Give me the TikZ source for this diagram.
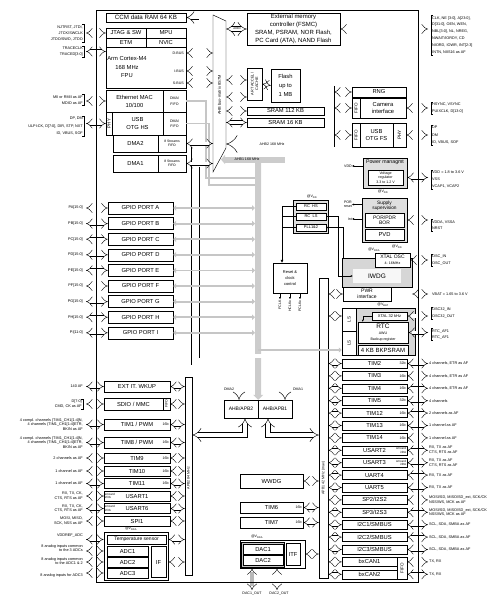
\documentclass[tikz,border=0pt]{standalone}
\usepackage{fontspec}
\setmainfont{Liberation Sans}
\usetikzlibrary{arrows.meta}

\begin{document}
\begin{tikzpicture}[
    x=1pt, y=-1pt,
    lbox/.style={draw, fill=white, line width=0.45pt, inner sep=0pt, align=center,
        font=\fontsize{5.8}{6.8}\selectfont},
    shadebox/.style={lbox, fill=gray!25},
    smalltxt/.style={inner sep=0pt, align=center, font=\fontsize{3.6}{4.2}\selectfont},
    bits/.style={smalltxt, anchor=east, xshift=-1.5pt},
    leftlab/.style={inner sep=1pt, anchor=east, align=right,
        font=\fontsize{3.8}{4.5}\selectfont},
    rightlab/.style={inner sep=1pt, anchor=west, align=left,
        font=\fontsize{3.8}{4.8}\selectfont},
    widelab/.style={font=\fontsize{3.8}{6.4}\selectfont},
    pinarrow/.style={line width=0.4pt, double=white, double distance=3.2pt,
        {Implies}-{Implies}},
    hollowpipe/.style={line width=0.45pt, double=white, double distance=4.6pt},
    graybus/.style={draw=gray!45, line width=1.8pt,
        {Triangle[length=3pt,width=5.5pt]}-{Triangle[length=3pt,width=5.5pt]}},
    grayline/.style={draw=gray!45, line width=1.3pt},
    sigarrow/.style={line width=0.4pt, -{Latex[length=2pt,width=2pt]}},
    bracket/.style={line width=0.3pt}
]
    \useasboundingbox (0,0) rectangle (501,599);
    % Pin columns and bus edges
    \coordinate (lpin) at (86,0);
    \coordinate (rpin) at (428,0);
    \coordinate (rbox) at (407,0);
    \coordinate (lcolr) at (170,0);
    \coordinate (bmL) at (213,0);
    \coordinate (bmR) at (226,0);
    \coordinate (gpiobus) at (255,0);

    % Core
    \node[lbox, minimum width=80pt, minimum height=9pt, font=\fontsize{6.2}{7}\selectfont] (ccm) at (146,17.5) {CCM data RAM 64 KB};
    \node[lbox, minimum width=40pt, minimum height=10pt] (jtag) at (126,33) {JTAG \& SW};
    \node[lbox, minimum width=40pt, minimum height=10pt] (mpu) at (166,33) {MPU};
    \node[lbox, minimum width=40pt, minimum height=9pt] (etm) at (126,42.5) {ETM};
    \node[lbox, minimum width=40pt, minimum height=9pt] (nvic) at (166,42.5) {NVIC};
    \node[lbox, minimum width=80pt, minimum height=41pt] (core) at (146,67.5) {};
    \node[smalltxt, font=\fontsize{5.8}{8.5}\selectfont] (cortex) at (127,67.5) {Arm Cortex-M4\\168 MHz\\FPU};
    \node[smalltxt, anchor=east] (dbus) at (184,53) {D-BUS};
    \node[smalltxt, anchor=east] (ibus) at (184,71) {I-BUS};
    \node[smalltxt, anchor=east] (sbus) at (184,83) {S-BUS};

    % Ethernet, USB HS, DMA
    \node[lbox, minimum width=57pt, minimum height=22pt, font=\fontsize{5.8}{8}\selectfont] (eth) at (134.5,101) {Ethernet MAC\\10/100};
    \node[lbox, minimum width=23pt, minimum height=22pt, font=\fontsize{3.6}{5.5}\selectfont] (ethfifo) at (174.5,101) {DMA/\\FIFO};
    \node[lbox, rotate=90, minimum width=23pt, minimum height=6pt, font=\fontsize{4.5}{5}\selectfont] (hsphy) at (109,123.5) {PHY};
    \node[lbox, minimum width=51pt, minimum height=23pt, font=\fontsize{5.8}{8}\selectfont] (usbhs) at (137.5,123.5) {USB\\OTG HS};
    \node[lbox, minimum width=23pt, minimum height=23pt, font=\fontsize{3.6}{5.5}\selectfont] (hsfifo) at (174.5,123.5) {DMA/\\FIFO};
    \node[lbox, minimum width=45pt, minimum height=17pt] (dmatwo) at (135.5,143.5) {DMA2};
    \node[lbox, minimum width=28pt, minimum height=17pt, font=\fontsize{3.4}{4.5}\selectfont] (dmatwofifo) at (172,143.5) {8 Streams\\FIFO};
    \node[lbox, minimum width=45pt, minimum height=17pt] (dmaone) at (135.5,163.5) {DMA1};
    \node[lbox, minimum width=28pt, minimum height=17pt, font=\fontsize{3.4}{4.5}\selectfont] (dmaonefifo) at (172,163.5) {8 Streams\\FIFO};

    % Bus matrix
    \draw[line width=0.45pt, fill=white] (213,15) -- (226,21) -- (226,148) -- (213,172) -- cycle;
    \node[smalltxt, rotate=90, font=\fontsize{4}{4.5}\selectfont] (busmatrix) at (219.5,95) {AHB bus-matrix 8S7M};

    % Memories
    \node[lbox, minimum width=93pt, minimum height=32pt, font=\fontsize{6}{7.9}\selectfont] (fsmc) at (293.5,29) {External memory\\controller (FSMC)\\SRAM, PSRAM, NOR Flash,\\PC Card (ATA), NAND Flash};
    \node[lbox, rotate=90, minimum width=32pt, minimum height=15pt, font=\fontsize{3.8}{4.6}\selectfont] (art) at (254.5,84) {ART ACCEL/\\CACHE};
    \node[lbox, minimum width=29pt, minimum height=33pt, font=\fontsize{5.8}{9}\selectfont] (flash) at (285.5,85.5) {Flash\\up to\\1 MB};
    \node[lbox, minimum width=77pt, minimum height=8pt] (sramone) at (285.5,111) {SRAM 112 KB};
    \node[lbox, minimum width=77pt, minimum height=9pt] (sramtwo) at (285.5,122.5) {SRAM 16 KB};
    \coordinate (artin) at ([yshift=4pt]art.north);
    \coordinate (artdin) at ([yshift=-13pt]art.north);

    % CCM path and core buses
    \coordinate (ccmdrop) at (201,50);
    \draw[hollowpipe, double distance=4pt, -{Implies}] (ccmdrop) |- (ccm.east);
    \draw[pinarrow] (dbus.east -| core.east) -- (dbus.east -| bmL);
    \draw[pinarrow] (ibus.east -| core.east) -- (ibus.east -| bmL);
    \draw[pinarrow] (sbus.east -| core.east) -- (sbus.east -| bmL);
    \draw[hollowpipe, {Implies}-{Implies}] (fsmc.west -| bmR) -- (fsmc.west);
    \node[smalltxt, font=\fontsize{2.8}{3}\selectfont] (ahbthree) at (237,29) {AHB3};
    \draw[pinarrow] (artin -| bmR) -- (artin);
    \draw[pinarrow] (artdin -| bmR) -- (artdin);
    \draw[pinarrow] (art.south) -- (flash.west);
    \draw[pinarrow] (sramone.west -| bmR) -- (sramone.west);
    \draw[pinarrow] (sramtwo.west -| bmR) -- (sramtwo.west);

    % AHB2
    \coordinate (ahbtwo) at (334,144);
    \coordinate (ahbtwotop) at (334,86);
    \draw[hollowpipe, double distance=6pt, {Implies}-] (ahbtwo -| bmR) -- (ahbtwo);
    \draw[line width=0.45pt] (ahbtwotop) -- ([yshift=-3pt]ahbtwo);
    \node[smalltxt] (ahbtwolab) at (272,144) {AHB2 168 MHz};
    \node[lbox, minimum width=54pt, minimum height=10pt] (rng) at (379,92) {RNG};
    \node[lbox, rotate=90, minimum width=20pt, minimum height=8pt, font=\fontsize{4.5}{5}\selectfont] (camfifo) at (356,108) {FIFO};
    \node[lbox, minimum width=46pt, minimum height=20pt, font=\fontsize{5.8}{7.5}\selectfont] (camera) at (383,108) {Camera\\interface};
    \node[lbox, rotate=90, minimum width=24pt, minimum height=8pt, font=\fontsize{4.5}{5}\selectfont] (fsfifo) at (356,135) {FIFO};
    \node[lbox, minimum width=33pt, minimum height=24pt, font=\fontsize{5.8}{7.5}\selectfont] (usbfs) at (376.5,135) {USB\\OTG FS};
    \node[lbox, rotate=90, minimum width=24pt, minimum height=13pt, font=\fontsize{4.8}{5}\selectfont] (fsphy) at (399.5,135) {PHY};
    \draw[pinarrow] (rng.west -| ahbtwo) -- (rng.west);
    \draw[pinarrow] (camfifo.north -| ahbtwo) -- (camfifo.north);
    \draw[pinarrow] (fsfifo.north -| ahbtwo) -- (fsfifo.north);

    % AHB1 and GPIO
    \node[lbox, minimum width=34pt, minimum height=18pt, font=\fontsize{5}{6}\selectfont] (ahbapb2) at (241,409) {AHB/APB2};
    \node[lbox, minimum width=34pt, minimum height=18pt, font=\fontsize{5}{6}\selectfont] (ahbapb1) at (275,409) {AHB/APB1};
    \coordinate (gbartop) at (258,162);
    \coordinate (ethdrop) at (206,178);
    \coordinate (hsdrop) at (209,185);
    \draw[grayline] (ethfifo.east) -| (ethdrop) -- (ethdrop -| gbartop);
    \draw[grayline] (hsfifo.east) -| (hsdrop) -- (hsdrop -| gbartop);
    \draw[draw=gray!40, line width=6pt, {Triangle[length=4pt,width=9pt]}-] (221,159.5) -- (285,159.5);
    \node[smalltxt] (ahbonelab) at (247,159.5) {AHB1 168 MHz};
    \draw[draw=gray!40, line width=6pt, -{Triangle[length=5pt,width=10pt]}] (gbartop) -- (ahbapb2.north east);

    \node[lbox, minimum width=65pt, minimum height=12pt] (gpioA) at (140.5,208) {GPIO PORT A};
    \node[lbox, minimum width=65pt, minimum height=12pt] (gpioB) at (140.5,223.6) {GPIO PORT B};
    \node[lbox, minimum width=65pt, minimum height=12pt] (gpioC) at (140.5,239.2) {GPIO PORT C};
    \node[lbox, minimum width=65pt, minimum height=12pt] (gpioD) at (140.5,254.8) {GPIO PORT D};
    \node[lbox, minimum width=65pt, minimum height=12pt] (gpioE) at (140.5,270.4) {GPIO PORT E};
    \node[lbox, minimum width=65pt, minimum height=12pt] (gpioF) at (140.5,286) {GPIO PORT F};
    \node[lbox, minimum width=65pt, minimum height=12pt] (gpioG) at (140.5,301.6) {GPIO PORT G};
    \node[lbox, minimum width=65pt, minimum height=12pt] (gpioH) at (140.5,317.2) {GPIO PORT H};
    \node[lbox, minimum width=65pt, minimum height=12pt] (gpioI) at (140.5,332.8) {GPIO PORT I};

    % DMA paths to the APB bridges
    \coordinate (dmatwotap) at (193.5,147);
    \coordinate (dmatwoturn) at (193.5,363);
    \coordinate (dmaonetap) at (201.5,167);
    \coordinate (dmaoneturn) at (201.5,356);
    \draw[hollowpipe, double distance=4pt, -{Implies}] (dmatwotap) -- (dmatwoturn) -| ([xshift=-2pt]ahbapb2.north);
    \draw[hollowpipe, double distance=4pt, -{Implies}] (dmaonetap) -- (dmaoneturn) -| ([xshift=10pt]ahbapb1.north);
    \draw[pinarrow] (dmatwofifo.east) -- (dmatwofifo.east -| bmL);
    \draw[pinarrow] (dmaonefifo.east) -- (dmaonefifo.east -| bmL);
    \node[smalltxt] (dmatwolab) at (229,389) {DMA2};
    \node[smalltxt] (dmaonelab) at (298,389) {DMA1};

    \foreach \p/\w in {A/15,B/15,C/15,D/15,E/15,F/15,G/15,H/15,I/11} {
        \draw[graybus] (gpio\p.east) -- (gpio\p.east -| gpiobus);
        \draw[pinarrow] (gpio\p.west -| lpin) -- (gpio\p.west);
        \node[leftlab, xshift=-2pt] at (gpio\p.west -| lpin) {P\p[\w:0]};
    }

    % Clocks
    \node[shadebox, minimum width=35pt, minimum height=33pt] (oscgroup) at (310.5,216.5) {};
    \node[lbox, minimum width=30pt, minimum height=7pt, font=\fontsize{4}{4.5}\selectfont] (rchs) at (311,206.5) {RC\ \ HS};
    \node[lbox, minimum width=30pt, minimum height=7pt, font=\fontsize{4}{4.5}\selectfont] (rcls) at (311,216.5) {RC\ \ LS};
    \node[lbox, minimum width=30pt, minimum height=7pt, font=\fontsize{4}{4.5}\selectfont] (pll) at (311,227.5) {PLL1\&2};
    \node[smalltxt] (vddclk) at (312,197) {@V\textsubscript{DD}};
    \node[lbox, minimum width=34pt, minimum height=30pt, font=\fontsize{4}{6}\selectfont] (rcc) at (290,278) {Reset \&\\clock\\control};
    \coordinate (clkdrop) at ([xshift=-8pt]rcc.north);
    \draw[line width=0.5pt, -{Latex[length=3pt,width=3pt]}] (rchs.west) -| (clkdrop);
    \draw[line width=0.5pt] (rcls.west) -- (rcls.west -| clkdrop);
    \draw[line width=0.5pt] (pll.west) -- (pll.west -| clkdrop);
    \foreach \dx/\clk in {-10/FCLK, 0/HCLKx, 10/PCLKx} {
        \draw[sigarrow] ([xshift=\dx pt]rcc.south) -- ++(0,6)
            node[smalltxt, rotate=90, anchor=east, inner sep=1pt] {\clk};
    }

    % Power
    \node[shadebox, minimum width=44pt, minimum height=30pt] (pwrmgt) at (385,173) {};
    \node[smalltxt, font=\fontsize{5.2}{5.5}\selectfont] (pwrtitle) at (385,162.5) {Power managmt};
    \node[lbox, minimum width=35pt, minimum height=15pt, font=\fontsize{3.6}{4.4}\selectfont] (vreg) at (385.5,177.5) {Voltage\\regulator\\3.3 to 1.2 V};
    \node[smalltxt, anchor=east] (vddout) at (352,166) {VDD};
    \draw[sigarrow] (pwrmgt.west |- vddout) -- (vddout.east);
    \node[smalltxt] (vddpwr) at (383,192) {@V\textsubscript{DD}};
    \node[shadebox, minimum width=45pt, minimum height=44pt] (supsup) at (384.5,220) {};
    \node[smalltxt, font=\fontsize{4.8}{5.4}\selectfont] (suptitle) at (384.5,205.5) {Supply\\supervision};
    \node[lbox, minimum width=39pt, minimum height=14pt, font=\fontsize{5}{5.5}\selectfont] (porbor) at (384.5,220) {POR/PDR\\BOR};
    \node[lbox, minimum width=39pt, minimum height=11pt] (pvd) at (384.5,234.5) {PVD};
    \node[smalltxt, anchor=east, align=right] (porrst) at (352,204.5) {POR\\reset};
    \node[smalltxt, anchor=east] (intout) at (352,219) {Int};
    \draw[sigarrow] (supsup.west |- porrst) -- (porrst.east);
    \draw[sigarrow] (supsup.west |- intout) -- (intout.east);
    \node[smalltxt] (vddsup) at (397,246.5) {@V\textsubscript{DD}};
    \node[smalltxt] (vddaosc) at (374,250) {@V\textsubscript{DDA}};
    \node[shadebox, fill=gray!32, minimum width=70pt, minimum height=29pt] (iwdgzone) at (377,272.5) {};
    \node[lbox, draw=none, fill=gray!6, minimum width=48pt, minimum height=14pt, font=\fontsize{6.5}{7}\selectfont] (iwdg) at (377,276) {IWDG};
    \node[lbox, minimum width=35pt, minimum height=14pt, font=\fontsize{5}{5.5}\selectfont] (xtalosc) at (392.5,260) {XTAL OSC\\\fontsize{3.6}{4}\selectfont 4- 16MHz};
    \node[lbox, minimum width=48pt, minimum height=14pt, font=\fontsize{5}{6}\selectfont] (pwrif) at (367,294) {PWR\\interface};
    \draw[sigarrow] ([xshift=1pt]iwdgzone.north west) |- (pll.east);
    \draw[sigarrow] (rcls.east) -| ([xshift=-15pt]iwdg.west) -- (iwdg.west);

    % Backup domain
    \node[shadebox, fill=gray!32, minimum width=73pt, minimum height=47pt] (bkpzone) at (378.5,331.5) {};
    \node[lbox, rotate=90, minimum width=23pt, minimum height=14pt, font=\fontsize{4.5}{5}\selectfont] (lsone) at (349,319.5) {LS};
    \node[lbox, rotate=90, minimum width=24pt, minimum height=14pt, font=\fontsize{4.5}{5}\selectfont] (lstwo) at (349,343) {LS};
    \node[lbox, minimum width=35pt, minimum height=8pt, font=\fontsize{4}{4.5}\selectfont] (xtalrtc) at (389.5,316) {XTAL 32 kHz};
    \node[lbox, minimum width=50pt, minimum height=21pt, font=\fontsize{6.5}{6}\selectfont] (rtc) at (383,332.5) {RTC\\\fontsize{3.6}{4.4}\selectfont AWU\\\fontsize{3.6}{4.4}\selectfont Backup register};
    \node[lbox, minimum width=50pt, minimum height=10pt, font=\fontsize{6}{7}\selectfont] (bkpsram) at (383,350) {4 KB BKPSRAM};
    \node[smalltxt] (vbatrtc) at (383,305) {@V\textsubscript{BAT}};
    \draw[sigarrow] (xtalrtc.west) -| ([xshift=5pt]rtc.north west);

    % APB buses
    \node[lbox, minimum width=7pt, minimum height=198pt] (apbtwo) at (188.5,476) {};
    \node[smalltxt, rotate=90] (apbtwolab) at (188.5,478) {APB2 84 MHz};
    \node[lbox, minimum width=9pt, minimum height=300pt] (apbone) at (323.5,428) {};
    \node[smalltxt, rotate=90] (apbonelab) at (323.5,478) {APB1 42 MHz (max)};
    \coordinate (apbturn) at (245,435);
    \draw[hollowpipe, {Implies}-{Implies}] ([xshift=4pt]ahbapb2.south) |- (apbtwo.east |- apbturn);
    \draw[hollowpipe, {Implies}-{Implies}] ([xshift=-7pt]ahbapb1.south) |- (apbone.west |- apbturn);
    \draw[grayline, -{Triangle[length=3pt,width=5pt]}] (gbartop |- bkpsram) -- (bkpzone.west |- bkpsram);
    \draw[pinarrow] (pwrif.west -| apbone.east) -- (pwrif.west);
    \draw[pinarrow] (xtalrtc.west -| apbone.east) -- (xtalrtc.west -| bkpzone.west);

    % APB2 peripherals
    \node[lbox, minimum width=66pt, minimum height=11pt] (extit) at (137,386.5) {EXT IT. WKUP};
    \node[lbox, minimum width=59pt, minimum height=12pt] (sdio) at (133.5,404) {SDIO / MMC};
    \node[lbox, rotate=90, minimum width=12pt, minimum height=7pt, font=\fontsize{3.5}{4}\selectfont] (sdiofifo) at (166.5,404) {FIFO};
    \node[lbox, minimum width=66pt, minimum height=11pt] (timone) at (137,424.5) {TIM1 / PWM};
    \node[lbox, minimum width=66pt, minimum height=11pt] (timeight) at (137,442.5) {TIM8 / PWM};
    \node[lbox, minimum width=66pt, minimum height=10pt] (timnine) at (137,458) {TIM9};
    \node[lbox, minimum width=66pt, minimum height=10pt] (timten) at (137,471) {TIM10};
    \node[lbox, minimum width=66pt, minimum height=10pt] (timeleven) at (137,483.5) {TIM11};
    \node[lbox, minimum width=66pt, minimum height=10pt] (usartone) at (137,496) {USART1};
    \node[lbox, minimum width=66pt, minimum height=10pt] (usartsix) at (137,508.5) {USART6};
    \node[lbox, minimum width=66pt, minimum height=10pt] (spione) at (137,521) {SPI1};
    \foreach \n in {timone,timeight,timnine,timten,timeleven}
        \node[bits] at (\n.east) {16b};
    \foreach \n in {usartone,usartsix}
        \node[smalltxt, anchor=west, align=left, xshift=1pt, font=\fontsize{3}{3.4}\selectfont] at (\n.west) {smcard\\irDA};
    \foreach \n in {extit,sdio,timone,timeight,timnine,timten,timeleven,usartone,usartsix,spione} {
        \draw[pinarrow] (\n.west -| lpin) -- (\n.west);
        \draw[pinarrow] (\n.east -| lcolr) -- (\n.east -| apbtwo.west);
    }
    \node[leftlab] (extpins) at (84,386.5) {140 AF};
    \node[leftlab] (sdiopins) at (83,404) {D[7:0]\\CMD, CK as AF};
    \node[leftlab] (timonepins) at (84,424.5) {4 compl. channels (TIM1\_CH1[1:4]N,\\4 channels (TIM1\_CH1[1:4]ETR,\\BKIN as AF};
    \node[leftlab] (timeightpins) at (84,442.5) {4 compl. channels (TIM1\_CH1[1:4]N,\\4 channels (TIM1\_CH1[1:4]ETR,\\BKIN as AF};
    \node[leftlab] (timninepins) at (84,458) {2 channels as AF};
    \node[leftlab] (timtenpins) at (84,471) {1 channel as AF};
    \node[leftlab] (timelevenpins) at (84,483.5) {1 channel as AF};
    \node[leftlab] (usartonepins) at (84,496) {RX, TX, CK,\\CTS, RTS as AF};
    \node[leftlab] (usartsixpins) at (84,508.5) {RX, TX, CK,\\CTS, RTS as AF};
    \node[leftlab] (spionepins) at (84,521) {MOSI, MISO,\\SCK, NSS as AF};

    % ADC
    \node[lbox, line width=0.9pt, minimum width=64pt, minimum height=48pt] (adcgroup) at (136,556) {};
    \node[lbox, minimum width=59pt, minimum height=9pt, font=\fontsize{5}{6}\selectfont] (tempsens) at (136.5,539.5) {Temperature sensor};
    \node[lbox, minimum width=41pt, minimum height=10pt] (adcone) at (127.5,551) {ADC1};
    \node[lbox, minimum width=41pt, minimum height=10pt] (adctwo) at (127.5,562) {ADC2};
    \node[lbox, minimum width=41pt, minimum height=10pt] (adcthree) at (127.5,573) {ADC3};
    \node[lbox, minimum width=15pt, minimum height=31pt] (adcif) at (158.5,562) {IF};
    \node[smalltxt] (vddaadc) at (131,528.5) {@V\textsubscript{DDA}};
    \foreach \n in {tempsens,adcone,adctwo,adcthree}
        \draw[pinarrow] (\n.west -| lpin) -- (\n.west -| adcgroup.west);
    \draw[pinarrow] (adcgroup.east |- tempsens) -- (apbtwo.west |- tempsens);
    \draw[pinarrow] (adcgroup.east |- adctwo) -- (apbtwo.west |- adctwo);
    \node[leftlab] (vrefpins) at (84,536) {VDDREF\_ADC};
    \node[leftlab] (adcapins) at (84,548) {8 analog inputs common\\to the 3 ADCs};
    \node[leftlab] (adcbpins) at (84,561) {8 analog inputs common\\to the ADC1 \& 2};
    \node[leftlab] (adccpins) at (84,576) {8 analog inputs for ADC3};

    % APB1 peripherals
    \node[lbox, minimum width=63pt, minimum height=14pt] (wwdg) at (271.5,481) {WWDG};
    \node[lbox, minimum width=63pt, minimum height=11pt] (timsix) at (271.5,507.5) {TIM6};
    \node[lbox, minimum width=63pt, minimum height=11pt] (timseven) at (271.5,522.5) {TIM7};
    \node[bits] at (timsix.east) {16b};
    \node[bits] at (timseven.east) {16b};
    \node[lbox, minimum width=65pt, minimum height=28pt] (dacgroup) at (272.5,554) {};
    \node[shadebox, fill=gray!45, minimum width=43pt, minimum height=25pt] (dacshade) at (263,554.5) {};
    \node[lbox, minimum width=40pt, minimum height=10pt] (dacone) at (263,549) {DAC1};
    \node[lbox, minimum width=40pt, minimum height=10pt] (dactwo) at (263,560.5) {DAC2};
    \node[lbox, minimum width=14pt, minimum height=22pt] (itf) at (293,554) {ITF};
    \node[smalltxt] (vddadac) at (257,537) {@V\textsubscript{DDA}};
    \foreach \n in {wwdg,timsix,timseven,dacgroup}
        \draw[pinarrow] (\n.east) -- (\n.east -| apbone.west);
    \node[smalltxt] (daconeout) at (252,594) {DAC1\_OUT};
    \node[smalltxt] (dactwoout) at (279,594) {DAC2\_OUT};
    \draw[pinarrow, double=gray!55] (daconeout.north |- dacgroup.south) -- ([yshift=2pt]daconeout.north);
    \draw[pinarrow] ([xshift=-2pt]dactwoout.north |- dacgroup.south) -- ([xshift=-2pt, yshift=2pt]dactwoout.north);

    \node[lbox, minimum width=65pt, minimum height=9pt] (tim2) at (374.5,363.5) {TIM2};
    \node[lbox, minimum width=65pt, minimum height=9pt] (tim3) at (374.5,375.9) {TIM3};
    \node[lbox, minimum width=65pt, minimum height=9pt] (tim4) at (374.5,388.3) {TIM4};
    \node[lbox, minimum width=65pt, minimum height=9pt] (tim5) at (374.5,400.7) {TIM5};
    \node[lbox, minimum width=65pt, minimum height=9pt] (tim12) at (374.5,413.1) {TIM12};
    \node[lbox, minimum width=65pt, minimum height=9pt] (tim13) at (374.5,425.5) {TIM13};
    \node[lbox, minimum width=65pt, minimum height=9pt] (tim14) at (374.5,437.9) {TIM14};
    \node[lbox, minimum width=65pt, minimum height=9pt] (usart2) at (374.5,450.3) {USART2};
    \node[lbox, minimum width=65pt, minimum height=9pt] (usart3) at (374.5,462.7) {USART3};
    \node[lbox, minimum width=65pt, minimum height=9pt] (uart4) at (374.5,475.1) {UART4};
    \node[lbox, minimum width=65pt, minimum height=9pt] (uart5) at (374.5,487.5) {UART5};
    \node[lbox, minimum width=65pt, minimum height=9pt] (spi2) at (374.5,499.9) {SP2/I2S2};
    \node[lbox, minimum width=65pt, minimum height=9pt] (spi3) at (374.5,512.3) {SP3/I2S3};
    \node[lbox, minimum width=65pt, minimum height=9pt] (i2c1) at (374.5,524.7) {I2C1/SMBUS};
    \node[lbox, minimum width=65pt, minimum height=9pt] (i2c2) at (374.5,537.1) {I2C2/SMBUS};
    \node[lbox, minimum width=65pt, minimum height=9pt] (i2c3) at (374.5,549.5) {I2C3/SMBUS};
    \node[lbox, minimum width=55pt, minimum height=9pt] (can1) at (369.5,561.9) {bxCAN1};
    \node[lbox, minimum width=55pt, minimum height=9pt] (can2) at (369.5,574.3) {bxCAN2};
    \node[lbox, rotate=90, minimum width=21.4pt, minimum height=10pt, font=\fontsize{4.5}{5}\selectfont] (canfifo) at (402,568.1) {FIFO};
    \foreach \n/\b in {tim2/32b,tim3/16b,tim4/16b,tim5/32b,tim12/16b,tim13/16b,tim14/16b}
        \node[bits] at (\n.east) {\b};
    \foreach \n in {usart2,usart3}
        \node[smalltxt, anchor=east, align=right, xshift=-1pt, font=\fontsize{3}{3.4}\selectfont] at (\n.east) {smcard\\irDA};
    \foreach \n in {tim2,tim3,tim4,tim5,tim12,tim13,tim14,usart2,usart3,uart4,uart5,spi2,spi3,i2c1,i2c2,i2c3,can1,can2} {
        \draw[pinarrow] (\n.west -| apbone.east) -- (\n.west);
        \draw[pinarrow] (\n.east -| rbox) -- (\n.east -| rpin);
    }
    \node[rightlab] at (tim2.east -| rpin) {4 channels, ETR as AF};
    \node[rightlab] at (tim3.east -| rpin) {4 channels, ETR as AF};
    \node[rightlab] at (tim4.east -| rpin) {4 channels, ETR as AF};
    \node[rightlab] at (tim5.east -| rpin) {4 channels};
    \node[rightlab] at (tim12.east -| rpin) {2 channels as AF};
    \node[rightlab] at (tim13.east -| rpin) {1 channel as AF};
    \node[rightlab] at (tim14.east -| rpin) {1 channel as AF};
    \node[rightlab] at (usart2.east -| rpin) {RX, TX as AF\\CTS, RTS as AF};
    \node[rightlab] at (usart3.east -| rpin) {RX, TX as AF\\CTS, RTS as AF};
    \node[rightlab] at (uart4.east -| rpin) {RX, TX as AF};
    \node[rightlab] at (uart5.east -| rpin) {RX, TX as AF};
    \node[rightlab] at (spi2.east -| rpin) {MOSI/SD, MISO/SD\_ext, SCK/CK\\NSS/WS, MCK as AF};
    \node[rightlab] at (spi3.east -| rpin) {MOSI/SD, MISO/SD\_ext, SCK/CK\\NSS/WS, MCK as AF};
    \node[rightlab] at (i2c1.east -| rpin) {SCL, SDA, SMBA as AF};
    \node[rightlab] at (i2c2.east -| rpin) {SCL, SDA, SMBA as AF};
    \node[rightlab] at (i2c3.east -| rpin) {SCL, SDA, SMBA as AF};
    \node[rightlab] at (can1.east -| rpin) {TX, RX};
    \node[rightlab] at (can2.east -| rpin) {TX, RX};

    % Top pins
    \draw[pinarrow] (jtag.west -| lpin) -- (jtag.west);
    \node[leftlab, font=\fontsize{3.8}{6}\selectfont] (jtagpins) at (84,33) {NJTRST, JTDI,\\JTCK/SWCLK\\JTDO/SWD, JTDO};
    \node[leftlab, font=\fontsize{3.8}{5.5}\selectfont] (tracepins) at (84,51.5) {TRACECLK\\TRACED[3:0]};
    \draw[pinarrow] (tracepins.east -| lpin) -- (tracepins.east -| core.west);
    \draw[pinarrow] (eth.west -| lpin) -- (eth.west);
    \node[leftlab, font=\fontsize{3.8}{6}\selectfont] (ethpins) at (84,100) {MII or RMII as AF\\MDIO as AF};
    \draw[pinarrow] (hsphy.north -| lpin) -- (hsphy.north);
    \node[leftlab, font=\fontsize{3.8}{7.5}\selectfont] (hspins) at (84,126) {DP, DM\\ULPI:CK, D[7:0], DIR, STP, NXT\\ID, VBUS, SOF};
    \foreach \n in {jtagpins,tracepins,ethpins,hspins,sdiopins}
        \draw[bracket] ([xshift=-2pt]\n.north east) -| (\n.south east) -- ++(-2,0);

    \draw[pinarrow] (fsmc.east) -- (fsmc.east -| rpin);
    \draw[pinarrow] (camera.east) -- (camera.east -| rpin);
    \draw[pinarrow] (fsphy.south) -- (fsphy.south -| rpin);
    \draw[pinarrow] (pwrmgt.east |- vreg) -- (vreg -| rpin);
    \draw[pinarrow] (supsup.east |- porbor) -- (porbor -| rpin);
    \draw[pinarrow] (xtalosc.east) -- (xtalosc.east -| rpin);
    \draw[pinarrow] (iwdgzone.east |- pwrif) -- (pwrif -| rpin);
    \draw[pinarrow] (xtalrtc.east) -- (xtalrtc.east -| rpin);
    \draw[pinarrow] (rtc.east) -- (rtc.east -| rpin);
    \node[rightlab, font=\fontsize{3.8}{6.8}\selectfont] (fsmcpins) at (431,35) {CLK, NE [3:0], A[23:0],\\D[31:0], OEN, WEN,\\NBL[3:0], NL, NREG,\\NWAIT/IORDY, CD\\NIORD, IOWR, INT[2:3]\\INTN, NIIS16 as AF};
    \node[rightlab, widelab] (campins) at (431,108) {HSYNC, VSYNC\\PUIXCLK, D[13:0]};
    \node[rightlab, font=\fontsize{3.8}{7.4}\selectfont] (fspins) at (431,135) {DP\\DM\\ID, VBUS, SOF};
    \node[rightlab, font=\fontsize{3.8}{7}\selectfont] (pwrpins) at (431,179.5) {VDD = 1.8 to 3.6 V\\VSS\\VCAP1, VCAP2};
    \node[rightlab, widelab] (suppins) at (431,225) {VDDA, VSSA\\NRST};
    \node[rightlab, widelab] (oscpins) at (431,260) {OSC\_IN\\OSC\_OUT};
    \node[rightlab] (vbatpins) at (431,294) {VBAT = 1.65 to 3.6 V};
    \node[rightlab, widelab] (oscrtcpins) at (431,313) {OSC32\_IN\\OSC32\_OUT};
    \node[rightlab, widelab] (rtcpins) at (431,334.5) {RTC\_AF1\\RTC\_AF1};
    \foreach \n in {fsmcpins,campins,fspins,pwrpins,suppins,oscpins,oscrtcpins,rtcpins}
        \draw[bracket] ([xshift=2pt]\n.north west) -| (\n.south west) -- ++(2,0);

    % Chip outline
    \draw[line width=0.5pt] (96,10) rectangle (418,582);
\end{tikzpicture}
\end{document}
